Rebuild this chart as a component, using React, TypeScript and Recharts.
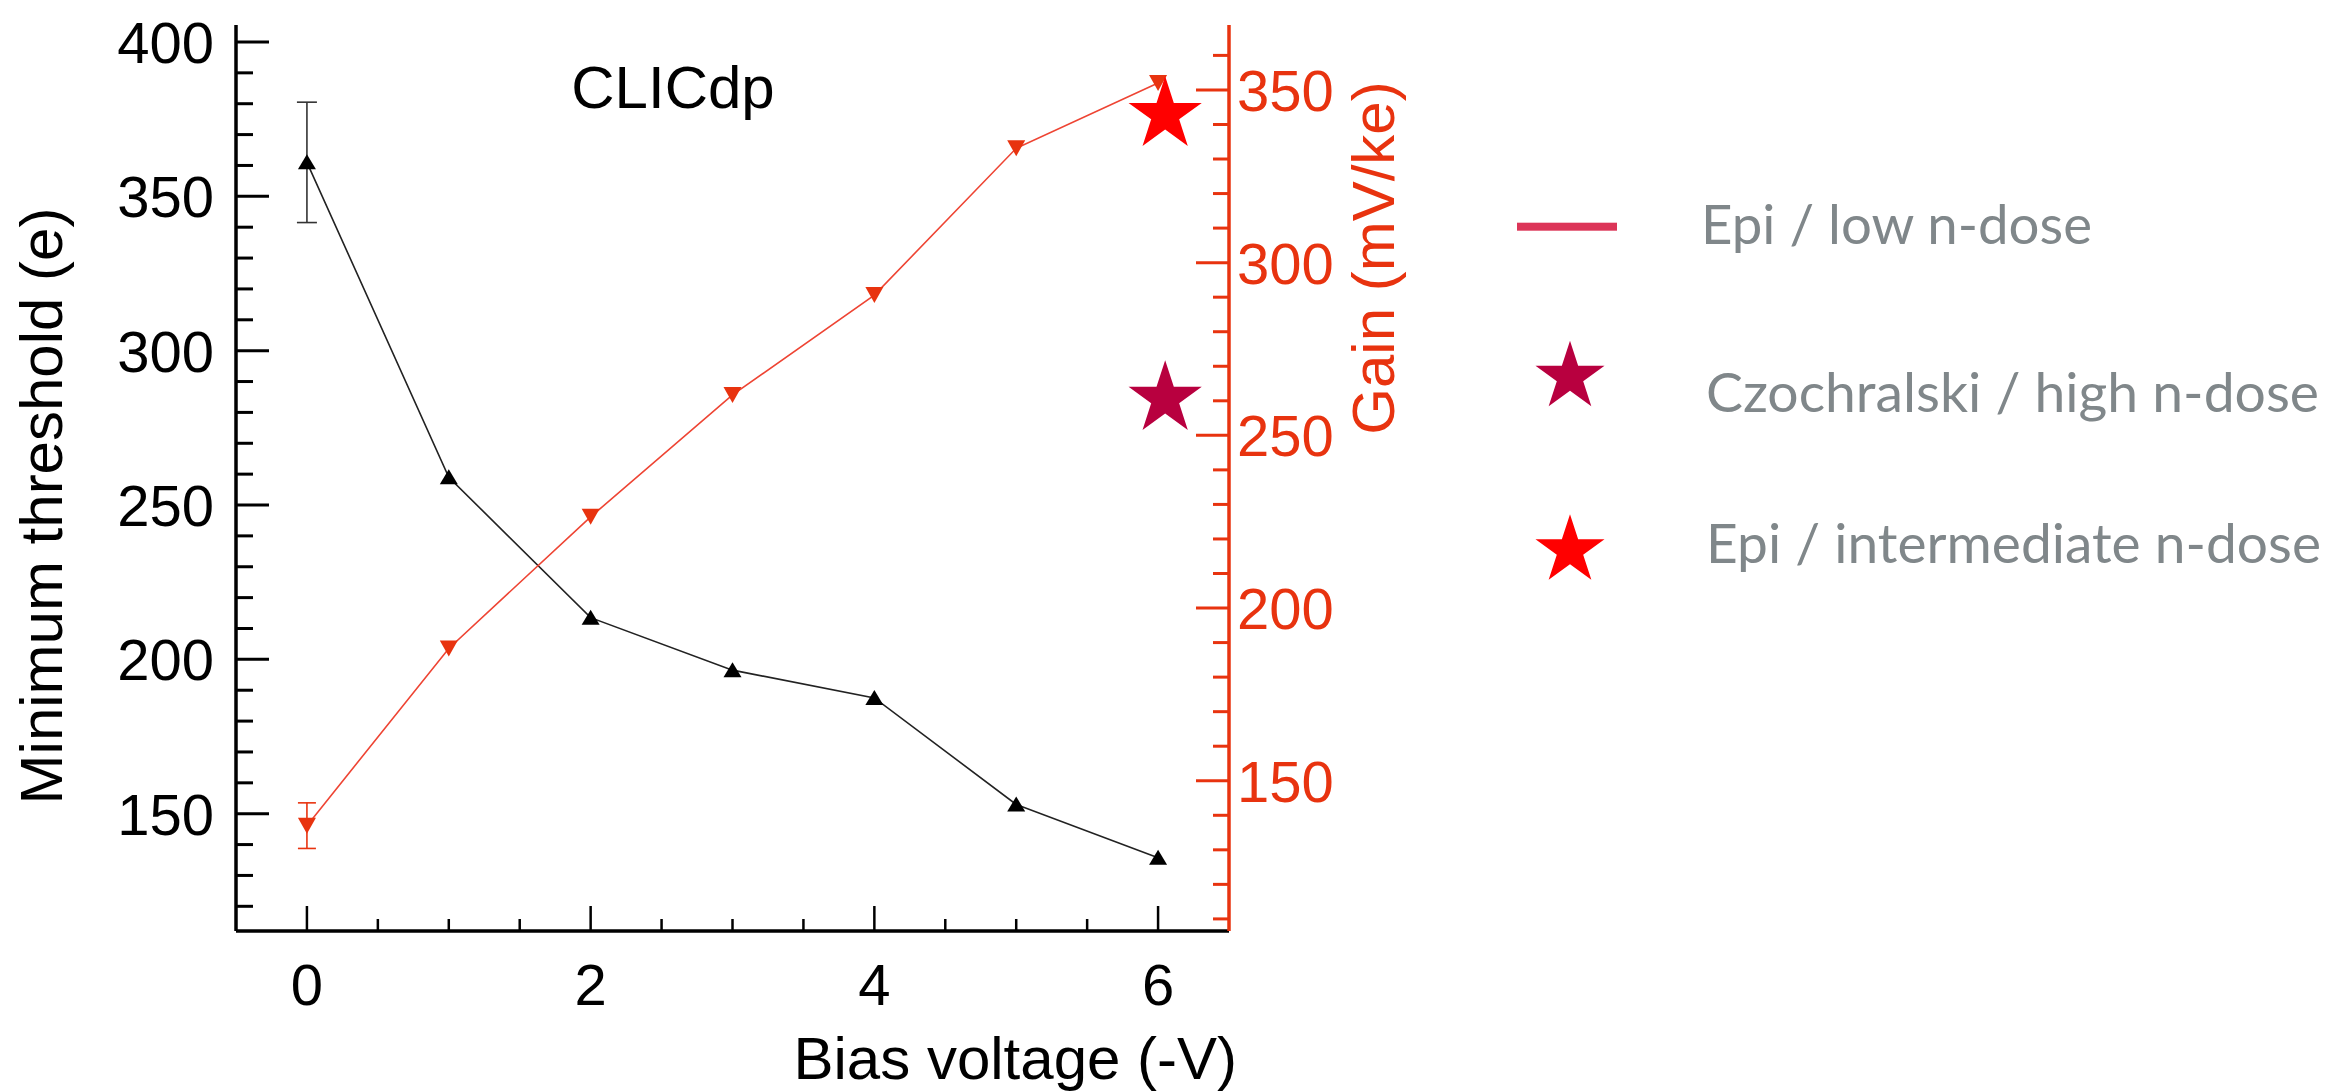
import {
  ComposedChart,
  Line,
  Scatter,
  ErrorBar,
  XAxis,
  YAxis,
} from 'recharts';

// bias voltage (-V) vs minimum threshold (left axis) and gain (right axis)
const biasVoltage = [0, 1, 2, 3, 4, 5, 6];
const minThreshold = [361, 259, 213.5, 196.5, 187.5, 153, 135.7];
const gain = [137, 188.3, 226.4, 261.7, 290.6, 333.1, 352];
const thresholdErr = [19.5];
const gainErr = [6.6];

const starVoltage = [6.05];
const czochralskiGain = [260.6];
const epiIntermediateGain = [342.8];

const leftTicks = [120, 130, 140, 150, 160, 170, 180, 190, 200, 210, 220, 230, 240, 250, 260, 270, 280, 290, 300, 310, 320, 330, 340, 350, 360, 370, 380, 390, 400];
const rightTicks = [110, 120, 130, 140, 150, 160, 170, 180, 190, 200, 210, 220, 230, 240, 250, 260, 270, 280, 290, 300, 310, 320, 330, 340, 350, 360];
const xTicks = [0, 0.5, 1, 1.5, 2, 2.5, 3, 3.5, 4, 4.5, 5, 5.5, 6];

const legendLabels = ['Epi / low n-dose', 'Czochralski / high n-dose', 'Epi / intermediate n-dose'];

const W = 2332;
const H = 1091;
const PLOT_L = 236;
const PLOT_R = 1229;
const PLOT_T = 25;
const PLOT_B = 931;
const RIGHT_AXIS_W = 200;

const BLACK = '#000';
const RED = '#e8330f';
const FONT = '"Liberation Sans", Arial, Helvetica, sans-serif';

const thresholdData = biasVoltage.map((x, i) => ({ x, y: minThreshold[i] }));
const gainData = biasVoltage.map((x, i) => ({ x, y: gain[i] }));
const thresholdErrData = [{ x: biasVoltage[0], y: minThreshold[0], err: thresholdErr[0] }];
const gainErrData = [{ x: biasVoltage[0], y: gain[0], err: gainErr[0] }];
const czData = [{ x: starVoltage[0], y: czochralskiGain[0] }];
const epiData = [{ x: starVoltage[0], y: epiIntermediateGain[0] }];

function starPoints(cx: number, cy: number, r: number): string {
  const pts: string[] = [];
  for (let k = 0; k < 10; k++) {
    const rad = k % 2 === 0 ? r : r * 0.382;
    const a = -Math.PI / 2 + (k * Math.PI) / 5;
    pts.push(`${cx + rad * Math.cos(a)},${cy + rad * Math.sin(a)}`);
  }
  return pts.join(' ');
}

const makeStar = (fill: string) => (p: any) =>
  <polygon points={starPoints(p.cx, p.cy, 38.5)} fill={fill} />;

const UpTriangle = (p: any) => {
  if (p.cx == null || p.cy == null) return <g key={p.index} />;
  const { cx, cy } = p;
  return (
    <path
      key={`u${p.index}`}
      d={`M${cx},${cy - 8} L${cx + 9},${cy + 7} L${cx - 9},${cy + 7} Z`}
      fill={BLACK}
    />
  );
};

const DownTriangle = (p: any) => {
  if (p.cx == null || p.cy == null) return <g key={p.index} />;
  const { cx, cy } = p;
  return (
    <path
      key={`d${p.index}`}
      d={`M${cx - 9},${cy - 8} L${cx + 9},${cy - 8} L${cx},${cy + 8} Z`}
      fill={RED}
    />
  );
};

const LeftTick = (p: any) => {
  const v = p.payload.value;
  const major = v % 50 === 0;
  return (
    <g>
      <line x1={PLOT_L} x2={PLOT_L + (major ? 33 : 17)} y1={p.y} y2={p.y} stroke={BLACK} strokeWidth={3} />
      {major && (
        <text x={PLOT_L - 22} y={p.y} dy="0.36em" textAnchor="end" fontSize={58} fontFamily={FONT} fill={BLACK}>
          {v}
        </text>
      )}
    </g>
  );
};

const RightTick = (p: any) => {
  const v = p.payload.value;
  const major = v % 50 === 0;
  return (
    <g>
      <line x1={PLOT_R - (major ? 33 : 16)} x2={PLOT_R} y1={p.y} y2={p.y} stroke={RED} strokeWidth={3} />
      {major && (
        <text x={PLOT_R + 8} y={p.y} dy="0.36em" textAnchor="start" fontSize={58} fontFamily={FONT} fill={RED}>
          {v}
        </text>
      )}
    </g>
  );
};

const BottomTick = (p: any) => {
  const v = p.payload.value;
  const major = v % 2 === 0;
  return (
    <g>
      <line x1={p.x} x2={p.x} y1={PLOT_B} y2={PLOT_B - (major ? 25 : 12)} stroke={BLACK} strokeWidth={2.5} />
      {major && (
        <text x={p.x} y={1005} textAnchor="middle" fontSize={58} fontFamily={FONT} fill={BLACK}>
          {v}
        </text>
      )}
    </g>
  );
};

const TopTick = (p: any) => {
  const v = p.payload.value;
  const major = v % 2 === 0;
  return <line x1={p.x} x2={p.x} y1={PLOT_T} y2={PLOT_T + (major ? 26 : 11)} stroke={BLACK} strokeWidth={2.5} />;
};

function Overlay() {
  const legendFont = 'Lato, "Open Sans", sans-serif';
  const legendColor = '#80878a';
  return (
    <g>
      <text x={673} y={108} textAnchor="middle" fontSize={60} fontFamily={FONT} fill={BLACK}>
        CLICdp
      </text>
      <text transform="translate(62,506) rotate(-90)" textAnchor="middle" fontSize={60} fontFamily={FONT} fill={BLACK}>
        Minimum threshold (e)
      </text>
      <text transform="translate(1394,258) rotate(-90)" textAnchor="middle" fontSize={60} fontFamily={FONT} fill={RED}>
        Gain (mV/ke)
      </text>
      <text x={1237} y={1079} textAnchor="end" fontSize={60} fontFamily={FONT} fill={BLACK}>
        Bias voltage (-V)
      </text>

      {/* legend */}
      <rect x={1517} y={222.7} width={100} height={8} fill="#dc3558" />
      <text x={1701} y={244} fontSize={54} fontFamily={legendFont} fill={legendColor} textLength={391} lengthAdjust="spacingAndGlyphs">
        {legendLabels[0]}
      </text>
      <polygon points={starPoints(1570, 377, 36.3)} fill="#b8003f" />
      <text x={1706} y={411.5} fontSize={54} fontFamily={legendFont} fill={legendColor} textLength={613} lengthAdjust="spacingAndGlyphs">
        {legendLabels[1]}
      </text>
      <polygon points={starPoints(1570, 550.5, 36.3)} fill="#ff0000" />
      <text x={1706} y={563} fontSize={54} fontFamily={legendFont} fill={legendColor} textLength={615} lengthAdjust="spacingAndGlyphs">
        {legendLabels[2]}
      </text>
    </g>
  );
}

export default function App() {
  return (
    <div style={{ width: W, height: H, background: '#fff' }}>
      <style>{'body{margin:0}'}</style>
      <ComposedChart
        width={W}
        height={H}
        margin={{ top: PLOT_T, right: W - PLOT_R - RIGHT_AXIS_W, bottom: 0, left: 0 }}
      >
        <XAxis
          xAxisId="b"
          type="number"
          dataKey="x"
          domain={[-0.5, 6.5]}
          allowDataOverflow
          ticks={xTicks}
          interval={0}
          height={H - PLOT_B}
          tickLine={false}
          axisLine={{ stroke: BLACK, strokeWidth: 3.5 }}
          tick={<BottomTick />}
        />
        <XAxis
          xAxisId="t"
          orientation="top"
          type="number"
          dataKey="x"
          domain={[-0.5, 6.5]}
          allowDataOverflow
          ticks={xTicks}
          interval={0}
          height={0}
          tickLine={false}
          axisLine={{ stroke: BLACK, strokeWidth: 3.5 }}
          tick={<TopTick />}
        />
        <YAxis
          yAxisId="l"
          type="number"
          dataKey="y"
          domain={[112, 405.5]}
          allowDataOverflow
          ticks={leftTicks}
          interval={0}
          width={PLOT_L}
          tickLine={false}
          axisLine={{ stroke: BLACK, strokeWidth: 3.5 }}
          tick={<LeftTick />}
        />
        <YAxis
          yAxisId="r"
          orientation="right"
          type="number"
          dataKey="y"
          domain={[106.5, 368.8]}
          allowDataOverflow
          ticks={rightTicks}
          interval={0}
          width={RIGHT_AXIS_W}
          tickLine={false}
          axisLine={{ stroke: RED, strokeWidth: 3.5 }}
          tick={<RightTick />}
        />

        <Line
          xAxisId="b"
          yAxisId="l"
          data={thresholdData}
          dataKey="y"
          type="linear"
          stroke="#222"
          strokeWidth={1.6}
          dot={UpTriangle}
          activeDot={false}
          isAnimationActive={false}
        />
        <Scatter xAxisId="b" yAxisId="l" data={thresholdErrData} dataKey="y" shape={() => <g />} isAnimationActive={false}>
          <ErrorBar dataKey="err" direction="y" width={10} stroke="#333" strokeWidth={1.6} />
        </Scatter>

        <Line
          xAxisId="b"
          yAxisId="r"
          data={gainData}
          dataKey="y"
          type="linear"
          stroke="#ee4433"
          strokeWidth={1.6}
          dot={DownTriangle}
          activeDot={false}
          isAnimationActive={false}
        />
        <Scatter xAxisId="b" yAxisId="r" data={gainErrData} dataKey="y" shape={() => <g />} isAnimationActive={false}>
          <ErrorBar dataKey="err" direction="y" width={9} stroke={RED} strokeWidth={1.6} />
        </Scatter>

        <Scatter xAxisId="b" yAxisId="r" data={czData} dataKey="y" shape={makeStar('#b8003f')} isAnimationActive={false} />
        <Scatter xAxisId="b" yAxisId="r" data={epiData} dataKey="y" shape={makeStar('#ff0000')} isAnimationActive={false} />

        <Overlay />
      </ComposedChart>
    </div>
  );
}
